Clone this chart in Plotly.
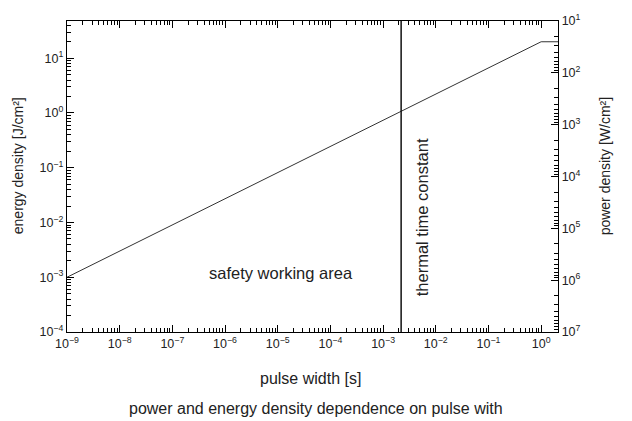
import plotly.graph_objects as go

# ---- data ----
pulse_width = [1e-9, 1.0, 2.1]          # s
energy_density = [1e-3, 20.0, 20.0]     # J/cm^2
thermal_time_constant = 2.2e-3          # s
x_decades = [-9, -8, -7, -6, -5, -4, -3, -2, -1, 0]
y_decades = [-4, -3, -2, -1, 0, 1]
y2_decades = [1, 2, 3, 4, 5, 6, 7]
x_log_range = [-9, 0.32]
y_log_range = [-4, 1.68]
y2_log_range = [7, 1]                   # power density axis, reversed

x_title = "pulse width [s]"
y_title = "energy density [J/cm²]"
y2_title = "power density [W/cm²]"
caption = "power and energy density dependence on pulse with"
area_label = "safety working area"
tau_label = "thermal time constant"

FONT = "Liberation Sans, Arial, sans-serif"
TXT = "#222222"


def sup(e):
    s = str(e).replace("-", "\u2212")
    return f"10<sup>{s}</sup>"


def all_ticks(decades):
    vals, text = [], []
    for k in range(min(decades) - 1, max(decades) + 1):
        for m in range(1, 10):
            if m == 1 and k not in decades:
                continue
            vals.append(m * 10.0 ** k)
            text.append(sup(k) if m == 1 else " ")
    return vals, text


fig = go.Figure()
fig.add_trace(go.Scatter(x=pulse_width, y=energy_density, mode="lines",
                         line=dict(color="#333333", width=1), hoverinfo="skip",
                         showlegend=False))
fig.add_trace(go.Scatter(x=[thermal_time_constant, thermal_time_constant],
                         y=[10 ** y_log_range[0], 10 ** y_log_range[1]], mode="lines",
                         line=dict(color="#111111", width=1.5), hoverinfo="skip",
                         showlegend=False))
for xa, ya in [("x", "y2"), ("x2", "y"), ("x", "y3"), ("x", "y4")]:
    fig.add_trace(go.Scatter(x=[], y=[], xaxis=xa, yaxis=ya, showlegend=False,
                             hoverinfo="skip"))


def minor_axis(decades, rng, **kw):
    vals, text = all_ticks(decades)
    return dict(type="log", range=rng, showgrid=False, zeroline=False, showline=True,
                linecolor="black", linewidth=1.3, ticks="inside", ticklen=4,
                tickwidth=1.1, tickcolor="black", tickangle=0,
                tickmode="array", tickvals=vals, ticktext=text,
                tickfont=dict(family=FONT, size=12.5, color=TXT), **kw)


def major_axis(decades, rng, **kw):
    return dict(type="log", range=rng, showgrid=False, zeroline=False, showline=False,
                ticks="inside", ticklen=7, tickwidth=1.2, tickcolor="black",
                tickmode="array", tickvals=[10.0 ** d for d in decades],
                showticklabels=False, **kw)


fig.update_layout(
    width=632, height=421,
    margin=dict(l=67, r=74, t=15, b=89),
    paper_bgcolor="white", plot_bgcolor="white",
    font=dict(family=FONT, color=TXT),
    xaxis=minor_axis(x_decades, x_log_range, mirror="ticks"),
    xaxis2=major_axis(x_decades, x_log_range, overlaying="x", mirror="ticks",
                      side="bottom", anchor="y"),
    yaxis=minor_axis(y_decades, y_log_range),
    yaxis3=major_axis(y_decades, y_log_range, overlaying="y", side="left", anchor="x"),
    yaxis2=minor_axis(y2_decades, y2_log_range, overlaying="y", side="right", anchor="x"),
    yaxis4=major_axis(y2_decades, y2_log_range, overlaying="y", side="right", anchor="x"),
)

ann = [
    dict(text=y_title, x=-0.1, y=0.536, textangle=-90, size=14),
    dict(text=y2_title, x=1.096, y=0.533, textangle=-90, size=14),
    dict(text=x_title, x=0.495, y=-0.151, textangle=0, size=16),
    dict(text=caption, x=0.507, y=-0.246, textangle=0, size=16),
    dict(text=area_label, x=0.436, y=0.189, textangle=0, size=16.5),
    dict(text=tau_label, x=0.723, y=0.369, textangle=-90, size=16.5),
]
for a in ann:
    fig.add_annotation(text=a["text"], xref="paper", yref="paper", x=a["x"], y=a["y"],
                       xanchor="center", yanchor="middle", textangle=a["textangle"],
                       showarrow=False, font=dict(family=FONT, size=a["size"], color=TXT))

fig.write_html("out.html")
